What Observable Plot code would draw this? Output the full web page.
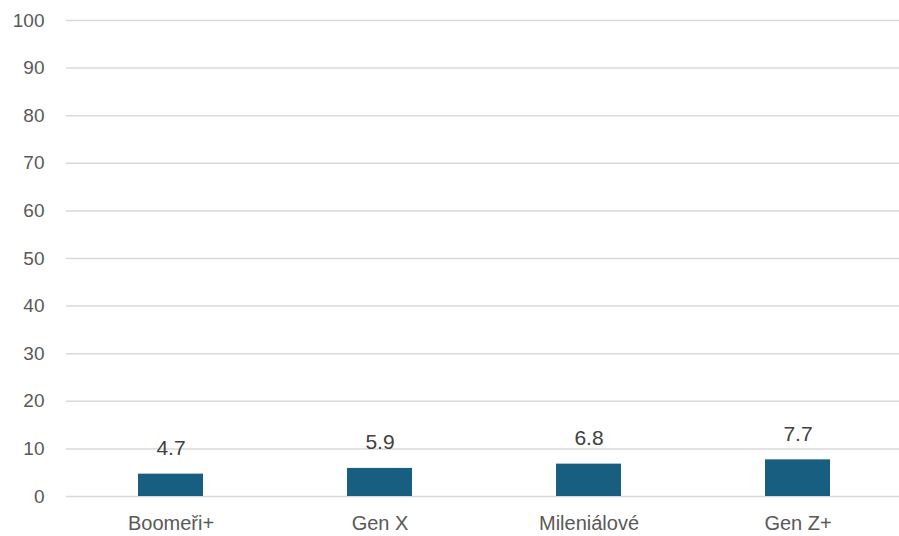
<!DOCTYPE html>
<html>
<head>
<meta charset="utf-8">
<script src="https://cdn.jsdelivr.net/npm/d3@7"></script>
<script src="https://cdn.jsdelivr.net/npm/@observablehq/plot@0.6"></script>
<style>
  html, body { margin: 0; padding: 0; background: #fff; }
</style>
</head>
<body>
<div id="chart"></div>
<script>
const categories = ["Boomeři+", "Gen X", "Mileniálové", "Gen Z+"];
const values = [4.7, 5.9, 6.8, 7.7];
const yTicks = [0, 10, 20, 30, 40, 50, 60, 70, 80, 90, 100];

const data = categories.map((c, i) => ({category: c, value: values[i]}));

const chart = Plot.plot({
  width: 899,
  height: 536,
  marginLeft: 66,
  marginRight: 0,
  marginTop: 20,
  marginBottom: 40,
  style: {fontFamily: "'Liberation Sans', Arial, sans-serif", fontSize: "19px", background: "#fff"},
  x: {domain: categories, range: [66, 902], paddingInner: 0.69, paddingOuter: 0.345, label: null},
  y: {domain: [0, 100], label: null},
  marks: [
    Plot.ruleY(yTicks, {stroke: "#d9d9d9", strokeWidth: 1.5}),
    Plot.axisY({ticks: yTicks, tickSize: 0, tickPadding: 22, fill: "#595959", fontSize: 19, label: null}),
    Plot.axisX({tickSize: 0, tickPadding: 19, fill: "#595959", fontSize: 20, label: null}),
    Plot.barY(data, {x: "category", y: "value", fill: "#185e80"}),
    Plot.text(data, {x: "category", y: "value", text: d => d.value.toFixed(1), dy: -26, fill: "#404040", fontSize: 21})
  ]
});
document.getElementById("chart").appendChild(chart);
</script>
</body>
</html>
